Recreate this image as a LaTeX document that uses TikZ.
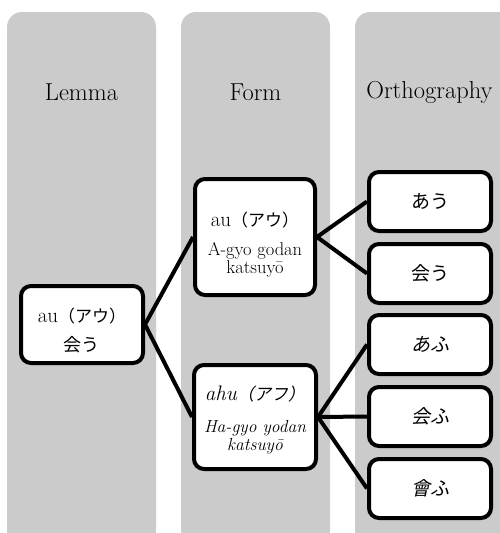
\documentclass[tikz,border=0pt]{standalone}
\usepackage{fontspec}
\newfontfamily\jp{Noto Sans CJK JP}
\newfontfamily\jpit[FakeSlant=0.22]{Noto Sans CJK JP}
\newcommand\jpp[1]{{\fontsize{17}{20}\jp #1}}
\newcommand\jppit[1]{{\fontsize{17}{20}\jpit #1}}
\definecolor{colbg}{RGB}{203,203,203}
\tikzset{
  column/.style={fill=colbg, draw=none, rounded corners=15pt},
  header/.style={font=\fontsize{24.5}{26}\selectfont, inner sep=0pt},
  box/.style={draw=black, fill=white, line width=4pt, rounded corners=10pt, align=center, inner sep=2pt},
  lemmabox/.style={box, minimum width=122pt, minimum height=77pt, font=\fontsize{21}{29}\selectfont},
  formbox/.style={box, minimum width=120pt, font=\fontsize{17.5}{18}\selectfont},
  orthbox/.style={box, minimum width=122pt, minimum height=59pt, font=\fontsize{19}{20}\selectfont},
  conn/.style={draw=black, line width=4pt}
}
\begin{document}
\begin{tikzpicture}[x=1pt,y=-1pt]
\useasboundingbox (0,0) rectangle (499,533);
% columns
\path[column] (7,12) rectangle (156,545);
\path[column] (181,12) rectangle (330,545);
\path[column] (355,12) rectangle (515,545);
% headers
\node[header] (hl) at (81.5,92) {Lemma};
\node[header] (hf) at (255.5,92) {Form};
\node[header] (ho) at (429.5,92) {Orthography};
% lemma
\node[lemmabox] (lem) at (82,324.5) {\rule{0pt}{26pt}au\jpp{（アウ）}\\{\fontsize{18}{20}\jp 会う}};
% forms
\node[formbox, minimum height=116pt] (f1) at (255,237)
  {\rule{0pt}{30pt}{\fontsize{21}{20}\selectfont au\jpp{（アウ）}}\\[11pt]{\fontsize{18.5}{18}\selectfont A-gyo godan}\\{\fontsize{18.5}{18}\selectfont katsuyō}};
\node[formbox, minimum width=122pt, minimum height=104pt] (f2) at (255,417)
  {\rule{0pt}{20pt}{\fontsize{21}{20}\selectfont\itshape ahu\jppit{（アフ）}}\\[14pt]{\itshape Ha-gyo yodan}\\{\itshape katsuyō}};
% orthographies
\node[orthbox] (o1) at (430,201.5) {\jp あう};
\node[orthbox] (o2) at (430,273.5) {\jp 会う};
\node[orthbox] (o3) at (430,344.5) {\jpit あふ};
\node[orthbox] (o4) at (430,416.5) {\jpit 会ふ};
\node[orthbox] (o5) at (430,488.5) {\jpit 會ふ};
% connectors
\draw[conn] (lem.east) -- (f1.west);
\draw[conn] (lem.east) -- (f2.west);
\draw[conn] (f1.east) -- (o1.west);
\draw[conn] (f1.east) -- (o2.west);
\draw[conn] (f2.east) -- (o3.west);
\draw[conn] (f2.east) -- (o4.west);
\draw[conn] (f2.east) -- (o5.west);
\end{tikzpicture}
\end{document}
